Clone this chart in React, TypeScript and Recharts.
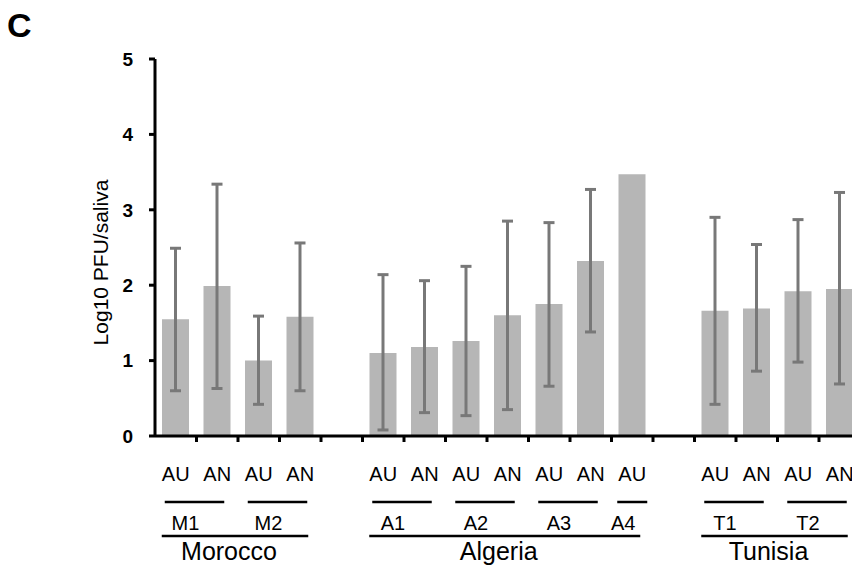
import { BarChart, Bar, XAxis, YAxis, ErrorBar } from "recharts";

// one entry per slot on the x axis, "" marks the empty slot between countries
const sampleTypes = ["AU", "AN", "AU", "AN", "", "AU", "AN", "AU", "AN", "AU", "AN", "AU", "", "AU", "AN", "AU", "AN"];
const sites = ["M1", "M1", "M2", "M2", "", "A1", "A1", "A2", "A2", "A3", "A3", "A4", "", "T1", "T1", "T2", "T2"];
const countries = [
  "Morocco", "Morocco", "Morocco", "Morocco", "",
  "Algeria", "Algeria", "Algeria", "Algeria", "Algeria", "Algeria", "Algeria", "",
  "Tunisia", "Tunisia", "Tunisia", "Tunisia",
];
const meanLog = [1.55, 1.99, 1.0, 1.58, null, 1.1, 1.18, 1.26, 1.6, 1.75, 2.32, 3.47, null, 1.66, 1.69, 1.92, 1.95];
const upperLog = [2.49, 3.34, 1.59, 2.56, null, 2.14, 2.06, 2.25, 2.85, 2.83, 3.27, null, null, 2.9, 2.54, 2.87, 3.23];
const lowerLog = [0.6, 0.63, 0.42, 0.6, null, 0.08, 0.31, 0.27, 0.35, 0.66, 1.38, null, null, 0.42, 0.86, 0.98, 0.69];
const yTicks = [0, 1, 2, 3, 4, 5];

const data = sampleTypes.map((type, i) => ({
  key: `${i}-${sites[i] || "gap"}-${type}`,
  value: meanLog[i],
  err:
    meanLog[i] != null && upperLog[i] != null && lowerLog[i] != null
      ? [meanLog[i]! - lowerLog[i]!, upperLog[i]! - meanLog[i]!]
      : null,
}));

const CHART_W = 870;
const CHART_H = 571;
const MARGIN = { top: 59, right: 9.5, left: 95, bottom: 10 };
const Y_AXIS_W = 60;
const SLOT = (CHART_W - MARGIN.left - MARGIN.right - Y_AXIS_W) / sampleTypes.length;

const FONT = "'Liberation Sans', Arial, sans-serif";

// finds the last index of a run of equal values starting at i
const runEnd = (arr: string[], i: number) => {
  let j = i;
  while (j + 1 < arr.length && arr[j + 1] === arr[i]) j++;
  return j;
};

const XTick = (props: any) => {
  const { x, y, payload } = props;
  const i: number = payload.index;
  const items = [];

  // tick marks sit on the slot boundaries
  if (i < sampleTypes.length - 1) {
    items.push(
      <line key="t" x1={x + SLOT / 2} x2={x + SLOT / 2} y1={y} y2={y + 6} stroke="#000" strokeWidth={3} />
    );
  }
  if (sampleTypes[i]) {
    items.push(
      <text key="s" x={x} y={y + 45} textAnchor="middle" fontSize={20} fontFamily={FONT} fill="#000">
        {sampleTypes[i]}
      </text>
    );
  }
  // site bracket, drawn once from its first slot
  if (sites[i] && (i === 0 || sites[i - 1] !== sites[i])) {
    const n = runEnd(sites, i) - i;
    const x1 = n ? x - 11 : x - 15;
    const x2 = n ? x + n * SLOT + 7 : x + 15;
    items.push(
      <g key="site">
        <line x1={x1} x2={x2} y1={y + 66} y2={y + 66} stroke="#000" strokeWidth={2.5} />
        <text x={(x1 + x2) / 2 - 9} y={y + 94} textAnchor="middle" fontSize={20} fontFamily={FONT} fill="#000">
          {sites[i]}
        </text>
      </g>
    );
  }
  // country bracket
  if (countries[i] && (i === 0 || countries[i - 1] !== countries[i])) {
    const n = runEnd(countries, i) - i;
    const x1 = x - 14;
    const x2 = x + n * SLOT + 8;
    items.push(
      <g key="country">
        <line x1={x1} x2={x2} y1={y + 100} y2={y + 100} stroke="#000" strokeWidth={2.5} />
        <text x={(x1 + x2) / 2 - 6} y={y + 124} textAnchor="middle" fontSize={25} fontFamily={FONT} fill="#000">
          {countries[i]}
        </text>
      </g>
    );
  }
  return <g>{items}</g>;
};

const YLabel = (props: any) => {
  const { viewBox } = props;
  const lx = viewBox.x + 13;
  const ly = viewBox.y + viewBox.height / 2 + 15;
  return (
    <text
      x={lx}
      y={ly}
      transform={`rotate(-90, ${lx}, ${ly})`}
      textAnchor="middle"
      fontSize={21}
      fontFamily={FONT}
      fill="#000"
    >
      Log10 PFU/saliva
    </text>
  );
};

const App = () => {
  return (
    <div
      style={{
        position: "absolute",
        left: 0,
        top: 0,
        width: 852,
        height: 571,
        overflow: "hidden",
        background: "#fff",
      }}
    >
      <div
        style={{
          position: "absolute",
          left: 7,
          top: 8,
          fontFamily: FONT,
          fontWeight: 700,
          fontSize: 34,
          lineHeight: "34px",
        }}
      >
        C
      </div>
      <BarChart width={CHART_W} height={CHART_H} data={data} margin={MARGIN}>
        <XAxis
          dataKey="key"
          interval={0}
          tick={<XTick />}
          tickLine={false}
          tickSize={0}
          tickMargin={0}
          height={125}
          axisLine={{ stroke: "#000", strokeWidth: 3 }}
        />
        <YAxis
          width={Y_AXIS_W}
          domain={[0, 5]}
          ticks={yTicks}
          interval={0}
          tickSize={6}
          tickMargin={16}
          tick={{ fill: "#000", fontSize: 19, fontWeight: 700, fontFamily: FONT }}
          tickLine={{ stroke: "#000", strokeWidth: 3 }}
          axisLine={{ stroke: "#000", strokeWidth: 3 }}
          label={<YLabel />}
        />
        <Bar dataKey="value" fill="#b6b6b6" barSize={27} isAnimationActive={false}>
          <ErrorBar dataKey="err" direction="y" width={5.5} stroke="#787878" strokeWidth={3} />
        </Bar>
      </BarChart>
    </div>
  );
};

export default App;
